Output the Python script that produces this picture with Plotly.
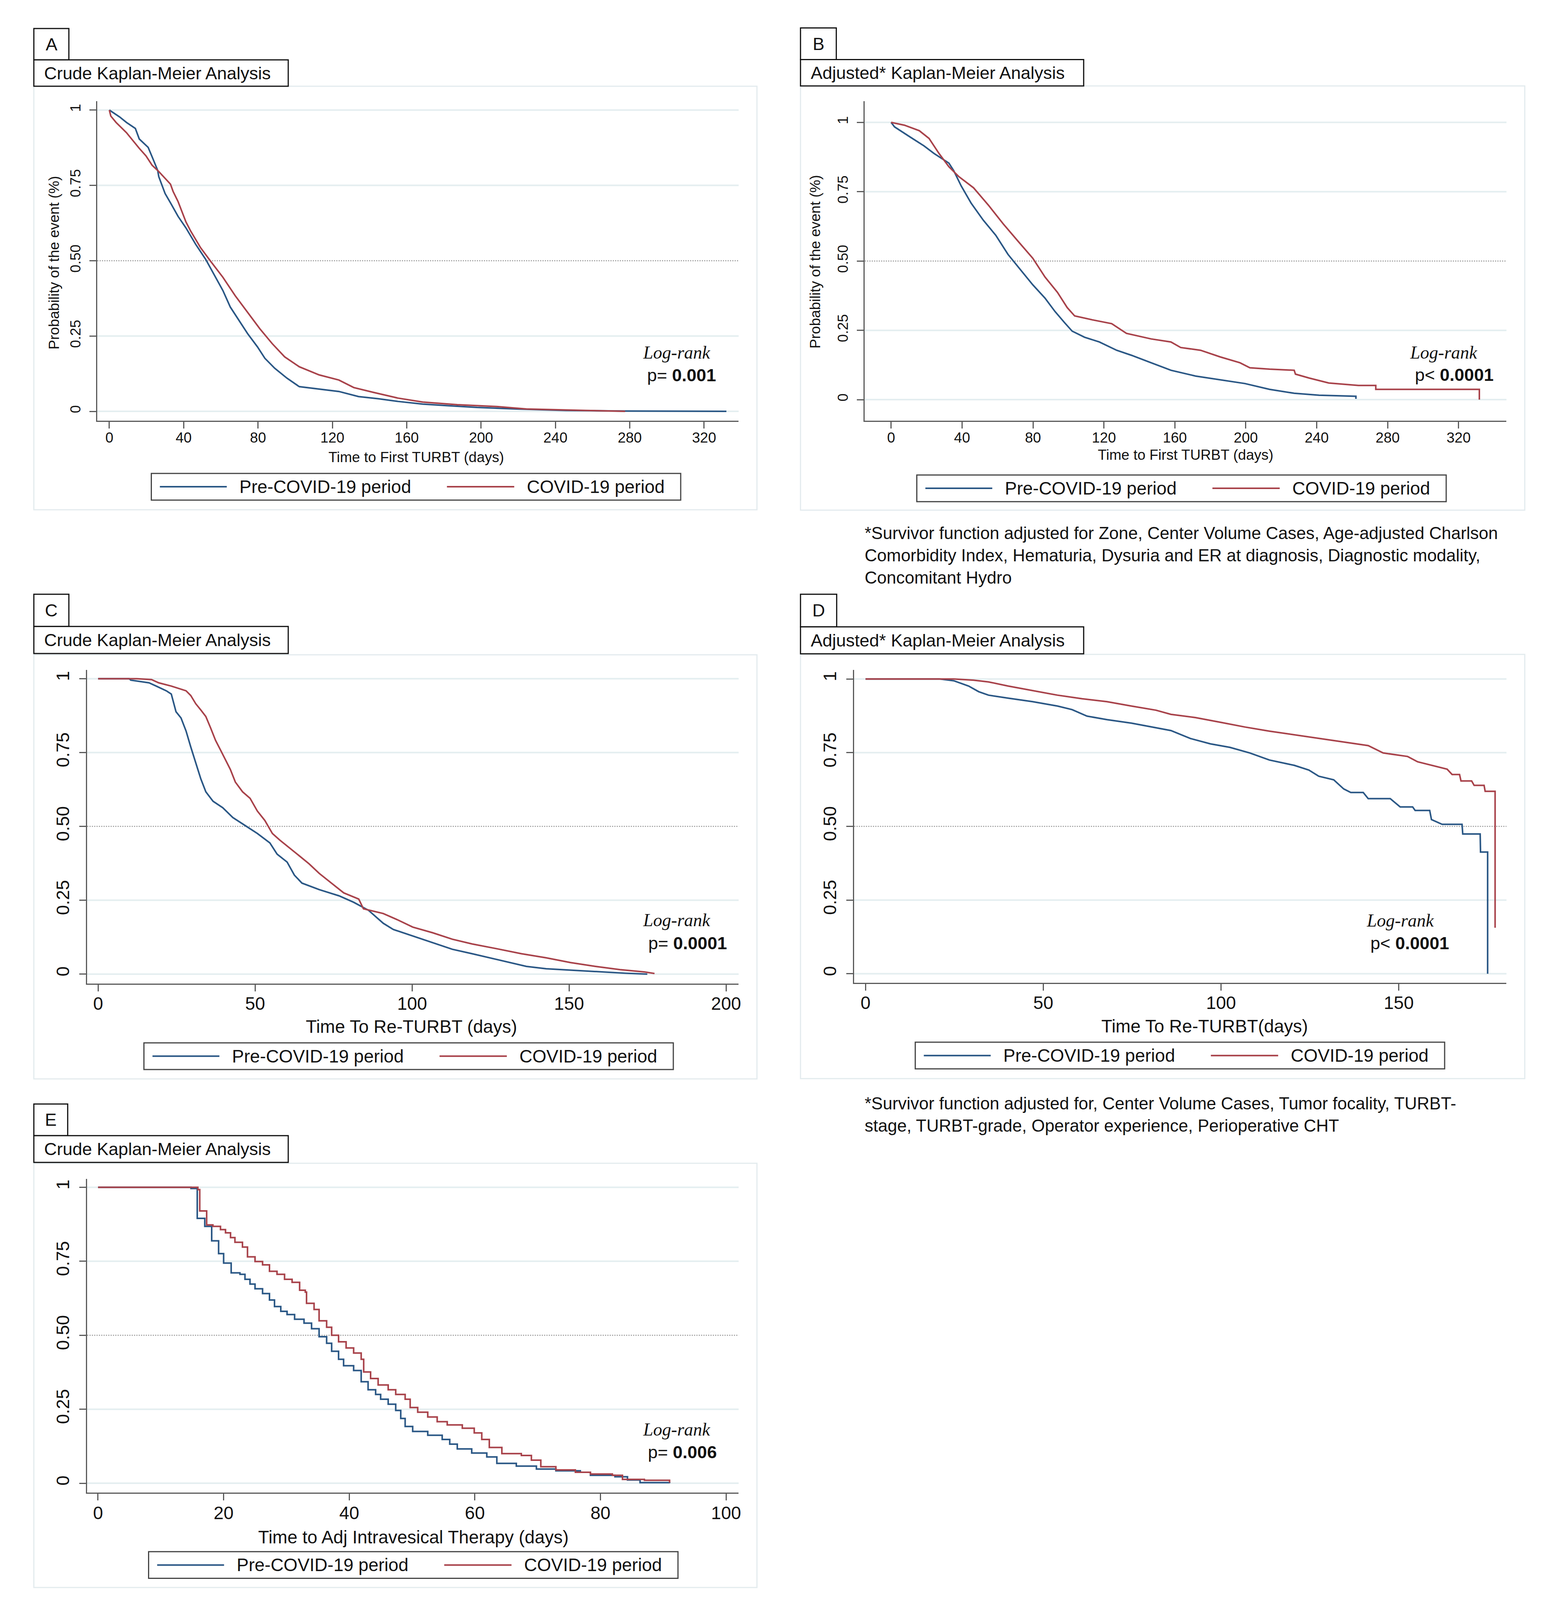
import plotly.graph_objects as go

# reference canvas used for placing elements (converted to paper fractions)
W, H = 3974, 5080

# ------------------------------------------------------------------ data
# Panel A – Crude KM, time to first TURBT
A_PRE_T = [0, 5.6, 9.2, 14, 16.1, 20.9, 23, 26, 26.6, 30, 32.9, 37, 41.2, 46.5, 51.8, 57.1, 61.1,
           65.1, 70.4, 74.4, 79.7, 83.7, 89, 95.6, 102.2, 112.9, 123.5, 134.1, 144.7, 155.3,
           168.6, 181.9, 197.8, 219.1, 245.6, 277.5, 332]
A_PRE_S = [1, 0.977, 0.959, 0.939, 0.904, 0.876, 0.845, 0.80, 0.779, 0.723, 0.692, 0.647, 0.609,
           0.554, 0.505, 0.445, 0.401, 0.346, 0.296, 0.258, 0.214, 0.176, 0.143, 0.110, 0.082,
           0.074, 0.066, 0.049, 0.042, 0.033, 0.024, 0.019, 0.013, 0.008, 0.003, 0.001, 0.0]
A_COV_T = [0, 0.8, 3.6, 9.2, 16.1, 19.7, 23, 26.6, 32.9, 34.3, 37, 41.2, 43.8, 49.1, 54.4, 61.1,
           67.7, 74.4, 81, 87.6, 94.3, 102.2, 112.9, 123.5, 131.5, 142.1, 155.3, 168.6, 187.2,
           208.5, 224.4, 256.3, 277.5]
A_COV_S = [1, 0.98, 0.959, 0.925, 0.873, 0.848, 0.817, 0.796, 0.754, 0.73, 0.696, 0.629, 0.598,
           0.543, 0.499, 0.445, 0.384, 0.329, 0.274, 0.225, 0.181, 0.148, 0.121, 0.104, 0.079,
           0.063, 0.044, 0.031, 0.022, 0.016, 0.008, 0.003, 0.0]

# Panel B – Adjusted KM, time to first TURBT
B_PRE_T = [0, 1.9, 10.3, 18.6, 24.2, 32.6, 35.3, 39.5, 45.1, 52, 59, 65.9, 72.9, 79.9, 86.8, 92.4,
           97.9, 102.1, 109.1, 117.4, 127.2, 135.5, 146.6, 157.8, 171.7, 185.6, 199.5, 213.4,
           227.3, 241.3, 255.2, 262.1, 262.1]
B_PRE_S = [1, 0.984, 0.949, 0.915, 0.888, 0.853, 0.826, 0.771, 0.709, 0.647, 0.593, 0.524, 0.469,
           0.414, 0.366, 0.318, 0.277, 0.247, 0.225, 0.208, 0.178, 0.160, 0.133, 0.106, 0.085,
           0.071, 0.058, 0.037, 0.023, 0.016, 0.014, 0.012, 0.003]
B_COV_T = [0, 7.5, 15.9, 21.4, 27, 32.6, 38.1, 46.5, 54.8, 63.2, 71.5, 79.9, 86.8, 93.8, 99.3,
           103.5, 113.3, 124.4, 132.7, 146.6, 157.8, 163.3, 174.5, 185.6, 196.7, 202.3, 213.4,
           227.3, 228, 235.7, 246.8, 263.5, 273.3, 273.3, 331.7, 331.7]
B_COV_S = [1, 0.99, 0.97, 0.942, 0.888, 0.84, 0.805, 0.764, 0.702, 0.634, 0.572, 0.51, 0.442,
           0.387, 0.332, 0.302, 0.288, 0.274, 0.239, 0.219, 0.208, 0.188, 0.178, 0.154, 0.133,
           0.115, 0.11, 0.106, 0.092, 0.078, 0.06, 0.051, 0.051, 0.037, 0.037, 0.0]

# Panel C – Crude KM, time to Re-TURBT
C_PRE_T = [0, 9.9, 10.4, 16.2, 18.5, 21.7, 23.3, 24.8, 26.4, 28, 29.5, 31.1, 32.7, 34.3, 36.6,
           39.7, 42.9, 46.8, 50.7, 54.7, 57, 60.2, 62.5, 64.9, 70.4, 76.7, 81.4, 86.1, 90.8, 94,
           100.2, 106.5, 112.8, 119.1, 125.4, 131.7, 136.4, 142.7, 150.5, 159.9, 167.8, 174.9]
C_PRE_S = [1, 1, 0.995, 0.986, 0.975, 0.959, 0.948, 0.888, 0.867, 0.823, 0.769, 0.715, 0.661,
           0.617, 0.585, 0.563, 0.530, 0.503, 0.476, 0.444, 0.406, 0.379, 0.335, 0.308, 0.286,
           0.265, 0.243, 0.216, 0.172, 0.151, 0.129, 0.107, 0.084, 0.069, 0.053, 0.037, 0.026,
           0.018, 0.013, 0.007, 0.003, 0.0]
C_COV_T = [0, 12.3, 17, 19.3, 23.3, 28, 29.5, 31.1, 32.7, 34.3, 35.8, 37.4, 39, 40.5, 42.1, 43.7,
           46, 48.4, 50.7, 53.1, 55.5, 57.8, 61, 64.1, 67.2, 70.4, 74.3, 78.2, 83, 84.5, 90.8,
           95.5, 100.2, 106.5, 112.8, 119.1, 126.9, 134.8, 142.7, 150.5, 158.4, 166.2, 174.1, 177.2]
C_COV_S = [1, 1, 0.997, 0.986, 0.975, 0.959, 0.943, 0.915, 0.894, 0.872, 0.834, 0.791, 0.758,
           0.726, 0.693, 0.650, 0.617, 0.595, 0.552, 0.520, 0.476, 0.454, 0.427, 0.400, 0.373,
           0.341, 0.308, 0.275, 0.254, 0.221, 0.205, 0.183, 0.159, 0.140, 0.118, 0.102, 0.086,
           0.069, 0.055, 0.039, 0.026, 0.015, 0.007, 0.002]

# Panel D – Adjusted KM, time to Re-TURBT
D_PRE_T = [0, 20.7, 24.8, 29, 31.8, 34.6, 40.1, 47, 54, 58.1, 62.3, 67.9, 74.8, 80.3, 85.9, 91.4,
           97, 102.5, 108.1, 113.6, 120.6, 124.7, 127.5, 131.7, 134.5, 136.5, 140, 141.4, 147.6,
           150.4, 153.9, 154.6, 158.7, 159.2, 162.2, 167.8, 168, 172.9, 173, 175, 175]
D_PRE_S = [1, 1, 0.994, 0.976, 0.957, 0.945, 0.935, 0.923, 0.908, 0.896, 0.874, 0.862, 0.850,
           0.837, 0.825, 0.798, 0.780, 0.768, 0.749, 0.725, 0.707, 0.691, 0.670, 0.658, 0.627,
           0.615, 0.615, 0.594, 0.594, 0.566, 0.566, 0.554, 0.554, 0.523, 0.507, 0.507, 0.474,
           0.474, 0.413, 0.413, 0.0]
D_COV_T = [0, 24.8, 30.4, 34.6, 40.1, 47, 54, 60.9, 67.9, 74.8, 81.7, 85.9, 92.8, 99.8, 106.7,
           113.6, 120.6, 127.5, 134.5, 141.4, 145.6, 152.5, 155.3, 159.4, 163.6, 165, 167.1,
           167.5, 170.5, 171.2, 174, 174.3, 177.1, 177.1]
D_COV_S = [1, 1, 0.996, 0.990, 0.976, 0.960, 0.945, 0.933, 0.923, 0.908, 0.894, 0.880, 0.869,
           0.853, 0.837, 0.823, 0.811, 0.798, 0.786, 0.774, 0.749, 0.737, 0.719, 0.707, 0.694,
           0.676, 0.676, 0.654, 0.654, 0.639, 0.639, 0.619, 0.619, 0.156]

# Panel E – Crude KM, time to adjuvant intravesical therapy (step points)
E_PRE_T = [0, 14, 14.8, 15.6, 15.8, 16.8, 17, 17.9, 18.1, 19.1, 19.2, 19.9, 20, 21.1, 21.2, 22.6,
           23.4, 24.2, 25, 26.2, 27.3, 28.1, 29.1, 30.1, 31.3, 32.8, 34, 35.2, 36.4, 37.2, 38.3,
           39.1, 40.7, 41.9, 43, 44.2, 45, 46.2, 47.4, 48.2, 48.9, 50.1, 52.5, 54.8, 56, 57.2,
           59.5, 61.9, 63.5, 66.6, 69.8, 72.9, 76.8, 78.4, 82.3, 84.3, 86.3, 91]
E_PRE_S = [1, 1, 0.996, 0.996, 0.895, 0.895, 0.868, 0.868, 0.819, 0.819, 0.776, 0.776, 0.744,
           0.744, 0.711, 0.706, 0.689, 0.673, 0.657, 0.641, 0.619, 0.597, 0.581, 0.570, 0.554,
           0.541, 0.522, 0.495, 0.473, 0.446, 0.419, 0.397, 0.381, 0.343, 0.316, 0.300, 0.284,
           0.267, 0.246, 0.219, 0.192, 0.175, 0.162, 0.148, 0.132, 0.116, 0.102, 0.089, 0.067,
           0.058, 0.048, 0.042, 0.037, 0.027, 0.022, 0.011, 0.002, 0.0]
E_COV_T = [0, 15.2, 15.9, 16.2, 17.1, 17.3, 18.3, 19.5, 20.3, 21.1, 21.8, 23, 23.8, 25, 26.2, 27.3,
           28.5, 29.7, 30.9, 32.1, 33, 33.2, 34.4, 35.2, 36.4, 37.2, 38.3, 39.5, 40.7, 41.9, 42.3,
           43.4, 44.6, 46.2, 47.4, 48.9, 49.7, 50.9, 52.5, 54, 55.6, 58, 59.9, 61.1, 62.3, 64.3,
           67.4, 69, 70.5, 72.9, 76, 78.4, 81.9, 83.5, 87, 91]
E_COV_S = [1, 1, 0.992, 0.920, 0.920, 0.873, 0.868, 0.857, 0.846, 0.830, 0.814, 0.798, 0.765,
           0.749, 0.738, 0.716, 0.706, 0.689, 0.679, 0.652, 0.646, 0.608, 0.587, 0.549, 0.527,
           0.500, 0.478, 0.457, 0.440, 0.419, 0.376, 0.354, 0.332, 0.316, 0.300, 0.284, 0.256,
           0.240, 0.224, 0.208, 0.197, 0.186, 0.170, 0.148, 0.121, 0.100, 0.094, 0.078, 0.056,
           0.045, 0.037, 0.031, 0.027, 0.013, 0.010, 0.002]

SERIES_NAMES = ["Pre-COVID-19 period", "COVID-19 period"]
Y_TICKS = [0, 0.25, 0.5, 0.75, 1]
Y_TICKTEXT = ["0", "0.25", "0.50", "0.75", "1"]
TICKS_TURBT = [0, 40, 80, 120, 160, 200, 240, 280, 320]
TICKS_RETURBT_C = [0, 50, 100, 150, 200]
TICKS_RETURBT_D = [0, 50, 100, 150]
TICKS_ADJ = [0, 20, 40, 60, 80, 100]

FOOT_B = ["*Survivor function adjusted for Zone, Center Volume Cases, Age-adjusted Charlson",
          "Comorbidity Index, Hematuria, Dysuria and ER at diagnosis, Diagnostic modality,",
          "Concomitant Hydro"]
FOOT_D = ["*Survivor function adjusted for, Center Volume Cases, Tumor focality, TURBT-",
          "stage, TURBT-grade, Operator experience, Perioperative CHT"]

# ------------------------------------------------------------------ style
BLUE = "#2a5785"
RED = "#a8424a"
AXC = "#5a5a5a"
GRID = "#e4eef0"
PANEL_BORDER = "#e3ebee"
TXT = "#111111"
SANS = "Liberation Sans, Arial, Helvetica, sans-serif"
SERIF = "Liberation Serif, Times New Roman, serif"


def px(p):
    return p / W


def py(p):
    return 1 - p / H


panels = [
    dict(letter="A", title="Crude Kaplan-Meier Analysis",
         pre=(A_PRE_T, A_PRE_S), cov=(A_COV_T, A_COV_S), shape="linear",
         xd=(242, 1891), yd=(313, 1331), xr=(-6.5, 338.6), yr=(-0.031, 1.029),
         xt=TICKS_TURBT, fs=37, xtitle="Time to First TURBT (days)", xt_x=1062, xt_off=116, xt_a=1.0,
         ytitle="Probability of the event (%)", yt_pos=(131, 827),
         lbox=(79, 169, 81, 181), tbox=(79, 733, 181, 265), outer=(79, 1938, 265, 1615),
         leg=(381, 1499), logrank=(1732, 1114), pval=(1834, 1172), ptxt="p= <b>0.001</b>"),
    dict(letter="B", title="Adjusted* Kaplan-Meier Analysis",
         pre=(B_PRE_T, B_PRE_S), cov=(B_COV_T, B_COV_S), shape="linear",
         xd=(2215, 3865), yd=(313, 1331), xr=(-14.9, 347), yr=(-0.076, 1.076),
         xt=TICKS_TURBT, fs=37, xtitle="Time to First TURBT (days)", xt_x=3040, xt_off=88, xt_a=0.0,
         ytitle="Probability of the event (%)", yt_pos=(2088, 825),
         lbox=(2050, 2142, 79, 180), tbox=(2050, 2778, 180, 264), outer=(2050, 3912, 264, 1616),
         leg=(2349, 1504), logrank=(3704, 1114), pval=(3833, 1171), ptxt="p&lt; <b>0.0001</b>"),
    dict(letter="C", title="Crude Kaplan-Meier Analysis",
         pre=(C_PRE_T, C_PRE_S), cov=(C_COV_T, C_COV_S), shape="linear",
         xd=(216, 1891), yd=(2126, 3125), xr=(-3.5, 204), yr=(-0.032, 1.029),
         xt=TICKS_RETURBT_C, fs=46, xtitle="Time To Re-TURBT (days)", xt_x=1050, xt_off=122, xt_a=0.5,
         ytitle=None, yt_pos=None,
         lbox=(79, 169, 1884, 1987), tbox=(79, 733, 1987, 2073), outer=(79, 1938, 2077, 3429),
         leg=(362, 3314), logrank=(1732, 2923), pval=(1862, 2982), ptxt="p= <b>0.0001</b>"),
    dict(letter="D", title="Adjusted* Kaplan-Meier Analysis",
         pre=(D_PRE_T, D_PRE_S), cov=(D_COV_T, D_COV_S), shape="linear",
         xd=(2188, 3865), yd=(2126, 3123), xr=(-3.2, 180.3), yr=(-0.031, 1.030),
         xt=TICKS_RETURBT_D, fs=46, xtitle="Time To Re-TURBT(days)", xt_x=3089, xt_off=123, xt_a=0.5,
         ytitle=None, yt_pos=None,
         lbox=(2050, 2143, 1884, 1988), tbox=(2050, 2778, 1988, 2074), outer=(2050, 3912, 2076, 3428),
         leg=(2345, 3312), logrank=(3592, 2924), pval=(3719, 2982), ptxt="p&lt; <b>0.0001</b>"),
    dict(letter="E", title="Crude Kaplan-Meier Analysis",
         pre=(E_PRE_T, E_PRE_S), cov=(E_COV_T, E_COV_S), shape="hv",
         xd=(216, 1891), yd=(3748, 4748), xr=(-1.73, 102), yr=(-0.032, 1.028),
         xt=TICKS_ADJ, fs=46, xtitle="Time to Adj Intravesical Therapy (days)", xt_x=1055, xt_off=135, xt_a=0.8,
         ytitle=None, yt_pos=None,
         lbox=(79, 166, 3509, 3610), tbox=(79, 733, 3610, 3695), outer=(79, 1938, 3698, 5050),
         leg=(374, 4936), logrank=(1732, 4546), pval=(1836, 4604), ptxt="p= <b>0.006</b>"),
]

fig = go.Figure()
shapes = []
annotations = []
layout_axes = {}

for i, p in enumerate(panels, start=1):
    xa = "x" if i == 1 else f"x{i}"
    ya = "y" if i == 1 else f"y{i}"
    xkey = "xaxis" if i == 1 else f"xaxis{i}"
    ykey = "yaxis" if i == 1 else f"yaxis{i}"

    # outer panel frame and heading boxes
    ox0, ox1, oy0, oy1 = p["outer"]
    shapes.append(dict(type="rect", xref="paper", yref="paper", x0=px(ox0), x1=px(ox1),
                       y0=py(oy1), y1=py(oy0), line=dict(color=PANEL_BORDER, width=3),
                       fillcolor="white", layer="below"))
    for bx in (p["lbox"], p["tbox"]):
        shapes.append(dict(type="rect", xref="paper", yref="paper", x0=px(bx[0]), x1=px(bx[1]),
                           y0=py(bx[3]), y1=py(bx[2]), line=dict(color="#111", width=3),
                           fillcolor="white", layer="above"))
    lb = p["lbox"]
    annotations.append(dict(text=p["letter"], xref="paper", yref="paper",
                            x=px((lb[0] + lb[1]) / 2), y=py((lb[2] + lb[3]) / 2),
                            xanchor="center", yanchor="middle", showarrow=False,
                            font=dict(family=SANS, size=45, color=TXT)))
    tb = p["tbox"]
    annotations.append(dict(text=p["title"], xref="paper", yref="paper",
                            x=px(tb[0] + 24), y=py((tb[2] + tb[3]) / 2),
                            xanchor="left", yanchor="middle", showarrow=False,
                            font=dict(family=SANS, size=45, color=TXT)))

    # curves
    for (t, s), name, col in ((p["pre"], SERIES_NAMES[0], BLUE), (p["cov"], SERIES_NAMES[1], RED)):
        fig.add_trace(go.Scatter(x=t, y=s, mode="lines", name=name, xaxis=xa, yaxis=ya,
                                 line=dict(color=col, width=4, shape=p["shape"]),
                                 showlegend=False, legendgroup=name))

    # axes
    layout_axes[xkey] = dict(
        domain=[px(p["xd"][0]), px(p["xd"][1])], range=list(p["xr"]), anchor=ya,
        showline=True, linecolor=AXC, linewidth=3, ticks="outside", ticklen=17,
        tickwidth=3, tickcolor=AXC, tickvals=p["xt"], showgrid=False, zeroline=False,
        tickfont=dict(family=SANS, size=p["fs"], color=TXT), ticklabelstandoff=-8,
        automargin=False, fixedrange=True)
    layout_axes[ykey] = dict(
        domain=[py(p["yd"][1]), py(p["yd"][0])], range=list(p["yr"]), anchor=xa,
        showline=True, linecolor=AXC, linewidth=3, ticks="outside", ticklen=17,
        tickwidth=3, tickcolor=AXC, tickvals=Y_TICKS, ticktext=Y_TICKTEXT, tickangle=-90,
        showgrid=False, zeroline=False,
        tickfont=dict(family=SANS, size=p["fs"], color=TXT), ticklabelstandoff=8,
        automargin=False, fixedrange=True)

    # grid lines (0.5 dotted reference line)
    for v in Y_TICKS:
        if v == 0.5:
            shapes.append(dict(type="line", xref=f"{xa} domain", yref=ya, x0=0, x1=1, y0=v, y1=v,
                               line=dict(color="#9a9a9a", width=2.5, dash="dot"), layer="below"))
        else:
            shapes.append(dict(type="line", xref=f"{xa} domain", yref=ya, x0=0, x1=1, y0=v, y1=v,
                               line=dict(color=GRID, width=4), layer="below"))

    # x-axis title: partly tied to the page, partly to the axis line (keeps clear of tick labels)
    a, off = p["xt_a"], p["xt_off"]
    annotations.append(dict(text=p["xtitle"], xref="paper", yref="paper",
                            x=px(p["xt_x"]), y=py(p["yd"][1] + a * off), yshift=-(1 - a) * off,
                            xanchor="center", yanchor="middle", showarrow=False,
                            font=dict(family=SANS, size=p["fs"], color=TXT)))
    if p["ytitle"]:
        annotations.append(dict(text=p["ytitle"], xref="paper", yref="paper",
                                x=px(p["yt_pos"][0]), y=py(p["yt_pos"][1]),
                                xanchor="center", yanchor="middle", textangle=-90,
                                showarrow=False,
                                font=dict(family=SANS, size=p["fs"], color=TXT)))

    # log-rank annotation (p-value kept a fixed distance below it)
    annotations.append(dict(text="<i>Log-rank</i>", xref="paper", yref="paper",
                            x=px(p["logrank"][0]), y=py(p["logrank"][1]),
                            xanchor="center", yanchor="middle", showarrow=False,
                            font=dict(family=SERIF, size=46, color=TXT)))
    annotations.append(dict(text=p["ptxt"], xref="paper", yref="paper",
                            x=px(p["pval"][0]), y=py(p["logrank"][1]),
                            yshift=-(p["pval"][1] - p["logrank"][1]),
                            xanchor="right", yanchor="middle", showarrow=False,
                            font=dict(family=SANS, size=45, color=TXT)))

    # legend box (drawn manually to reproduce the long Stata key lines)
    lx, ly = p["leg"]
    lw, lh = 1361, 85
    shapes.append(dict(type="rect", xref="paper", yref="paper", x0=px(lx), x1=px(lx + lw),
                       y0=py(ly + lh), y1=py(ly), line=dict(color="#444", width=3),
                       fillcolor="white"))
    cy = ly + lh / 2
    for (a0, a1, tx), name, col in (((22, 194, 224), SERIES_NAMES[0], BLUE),
                                    ((760, 933, 963), SERIES_NAMES[1], RED)):
        shapes.append(dict(type="line", xref="paper", yref="paper", x0=px(lx + a0), x1=px(lx + a1),
                           y0=py(cy), y1=py(cy), line=dict(color=col, width=4)))
        annotations.append(dict(text=name, xref="paper", yref="paper", x=px(lx + tx), y=py(cy),
                                xanchor="left", yanchor="middle", showarrow=False,
                                font=dict(family=SANS, size=46, color=TXT)))

# footnotes
for lines, yc in ((FOOT_B, 1760), (FOOT_D, 3542)):
    annotations.append(dict(text="<br>".join(lines), xref="paper", yref="paper", x=px(2213),
                            y=py(yc), xanchor="left", yanchor="middle", align="left",
                            showarrow=False, font=dict(family=SANS, size=44, color=TXT)))

fig.update_layout(
    autosize=True, margin=dict(l=0, r=0, t=0, b=0),
    paper_bgcolor="white", plot_bgcolor="rgba(0,0,0,0)",
    showlegend=False, shapes=shapes, annotations=annotations,
    **layout_axes,
)

fig.write_html("out.html")
